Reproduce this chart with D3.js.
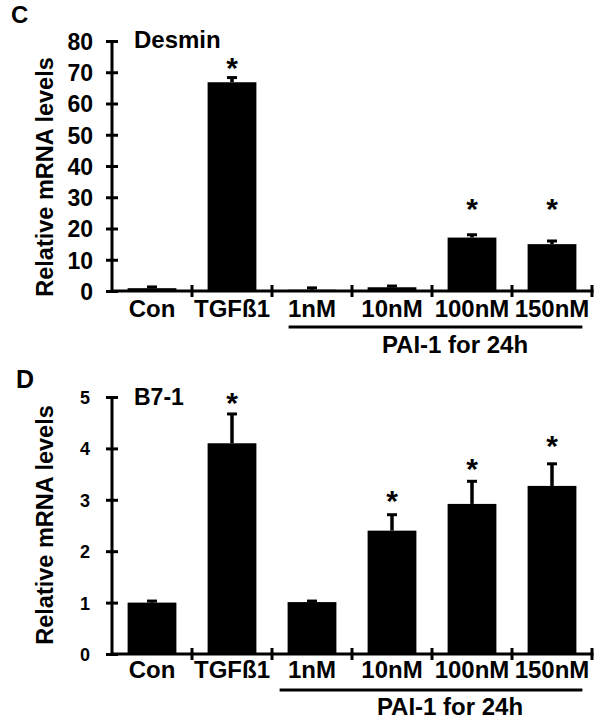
<!DOCTYPE html>
<html>
<head>
<meta charset="utf-8">
<script src="https://cdn.jsdelivr.net/npm/d3@7"></script>
<style>
  body { margin: 0; background: #fff; }
  text { font-family: "Liberation Sans", Arial, sans-serif; font-weight: bold; fill: #000; }
</style>
</head>
<body>
<svg id="chart" width="602" height="725"></svg>
<script>
// ---- data ----
const categories = ["Con", "TGFß1", "1nM", "10nM", "100nM", "150nM"];

const desminMean = [0.9, 66.8, 0.4, 1.2, 17.1, 15.0];
const desminErr  = [0.4, 1.5, 0.6, 0.4, 0.9, 1.0];
const desminStar = [null, 73.4, null, null, 28.3, 28.3];
const desminTicks = [0, 10, 20, 30, 40, 50, 60, 70, 80];

const b7Mean = [1.0, 4.10, 1.01, 2.40, 2.92, 3.27];
const b7Err  = [0.03, 0.57, 0.02, 0.31, 0.44, 0.43];
const b7Star = [null, 5.02, null, 3.11, 3.73, 4.18];
const b7Ticks = [0, 1, 2, 3, 4, 5];

const yLabel = "Relative mRNA levels";
const groupLabel = "PAI-1 for 24h";

const svg = d3.select("#chart");

function drawPanel(o) {
  const x = d3.scaleBand().domain(categories).range([112, 592])
    .paddingInner(0.39).paddingOuter(0.195);
  const y = d3.scaleLinear().domain([0, o.ticks[o.ticks.length - 1]]).range([o.y0, o.y1]);
  const g = svg.append("g");

  // panel letter & title
  g.append("text").attr("x", o.letterX).attr("y", o.letterY)
    .style("font-size", o.letterSize + "px").text(o.letter);
  g.append("text").attr("x", 134).attr("y", o.titleY)
    .style("font-size", o.titleSize + "px").text(o.title);

  // bars
  const data = categories.map((c, i) => ({ c, m: o.mean[i], e: o.err[i], s: o.star[i] }));
  g.selectAll("rect.bar").data(data).join("rect")
    .attr("x", d => x(d.c)).attr("width", x.bandwidth())
    .attr("y", d => y(d.m)).attr("height", d => y(0) - y(d.m))
    .attr("fill", "#000");

  // error bars
  g.selectAll("line.stem").data(data).join("line")
    .attr("x1", d => x(d.c) + x.bandwidth() / 2).attr("x2", d => x(d.c) + x.bandwidth() / 2)
    .attr("y1", d => y(d.m)).attr("y2", d => y(d.m + d.e))
    .attr("stroke", "#000").attr("stroke-width", 3.5);
  g.selectAll("line.cap").data(data).join("line")
    .attr("x1", d => x(d.c) + x.bandwidth() / 2 - 5).attr("x2", d => x(d.c) + x.bandwidth() / 2 + 5)
    .attr("y1", d => y(d.m + d.e)).attr("y2", d => y(d.m + d.e))
    .attr("stroke", "#000").attr("stroke-width", 3);

  // asterisks
  const starSize = 30;
  g.selectAll("text.star").data(data.filter(d => d.s != null)).join("text")
    .attr("x", d => x(d.c) + x.bandwidth() / 2)
    .attr("y", d => y(d.s) + starSize * 0.56)
    .attr("text-anchor", "middle")
    .style("font-size", starSize + "px").text("*");

  // y axis
  const yAxis = d3.axisLeft(y).tickValues(o.ticks).tickFormat(d3.format("d"))
    .tickSizeOuter(0).tickSize(6).tickPadding(o.tickPad);
  const ya = g.append("g").attr("transform", "translate(112,0)").call(yAxis);
  ya.select(".domain").attr("stroke-width", 3).attr("d", `M0,${y(0) + 1.5}V${o.y1}`);
  ya.selectAll(".tick line").attr("x1", 6).attr("x2", -6).attr("stroke-width", 3);
  ya.selectAll(".tick text").style("font-size", o.tickSize + "px")
    .style("font-family", "'Liberation Sans', Arial, sans-serif").style("font-weight", "bold")
    .attr("dy", "0.36em");

  // x axis
  g.append("line").attr("x1", 112).attr("x2", 593.5).attr("y1", y(0)).attr("y2", y(0))
    .attr("stroke", "#000").attr("stroke-width", 3);
  g.selectAll("line.xtick").data(categories).join("line")
    .attr("x1", c => x(c) + x.bandwidth() / 2 + x.step() / 2)
    .attr("x2", c => x(c) + x.bandwidth() / 2 + x.step() / 2)
    .attr("y1", y(0) - 6).attr("y2", y(0) + 6)
    .attr("stroke", "#000").attr("stroke-width", 3);
  g.selectAll("text.xlab").data(categories).join("text")
    .attr("x", c => x(c) + x.bandwidth() / 2).attr("y", y(0) + o.xLabOff)
    .attr("text-anchor", "middle").style("font-size", "24px").text(c => c);

  // group line & label
  g.append("line").attr("x1", x("1nM") + o.lineStartOff).attr("x2", x("150nM") + x.bandwidth() + 6)
    .attr("y1", y(0) + o.lineOff).attr("y2", y(0) + o.lineOff)
    .attr("stroke", "#000").attr("stroke-width", 3);
  g.append("text").attr("x", o.groupX).attr("y", y(0) + o.groupOff)
    .attr("text-anchor", "middle").style("font-size", "24px").text(groupLabel);

  // y label
  g.append("text").attr("transform", `translate(53,${o.yLabY}) rotate(-90)`)
    .attr("text-anchor", "middle").style("font-size", "23.5px").text(yLabel);
}

drawPanel({
  letter: "C", letterX: 11, letterY: 23, letterSize: 24,
  title: "Desmin", titleY: 48, titleSize: 24,
  mean: desminMean, err: desminErr, star: desminStar, ticks: desminTicks,
  y0: 291, y1: 41, tickSize: 23, tickPad: 13,
  xLabOff: 26, lineOff: 36, lineStartOff: 1, groupOff: 62, groupX: 455, yLabY: 177
});

drawPanel({
  letter: "D", letterX: 16, letterY: 388, letterSize: 25,
  title: "B7-1", titleY: 405, titleSize: 23,
  mean: b7Mean, err: b7Err, star: b7Star, ticks: b7Ticks,
  y0: 654, y1: 397, tickSize: 18, tickPad: 16,
  xLabOff: 24, lineOff: 36, lineStartOff: -8, groupOff: 61, groupX: 450, yLabY: 525
});
</script>
</body>
</html>
